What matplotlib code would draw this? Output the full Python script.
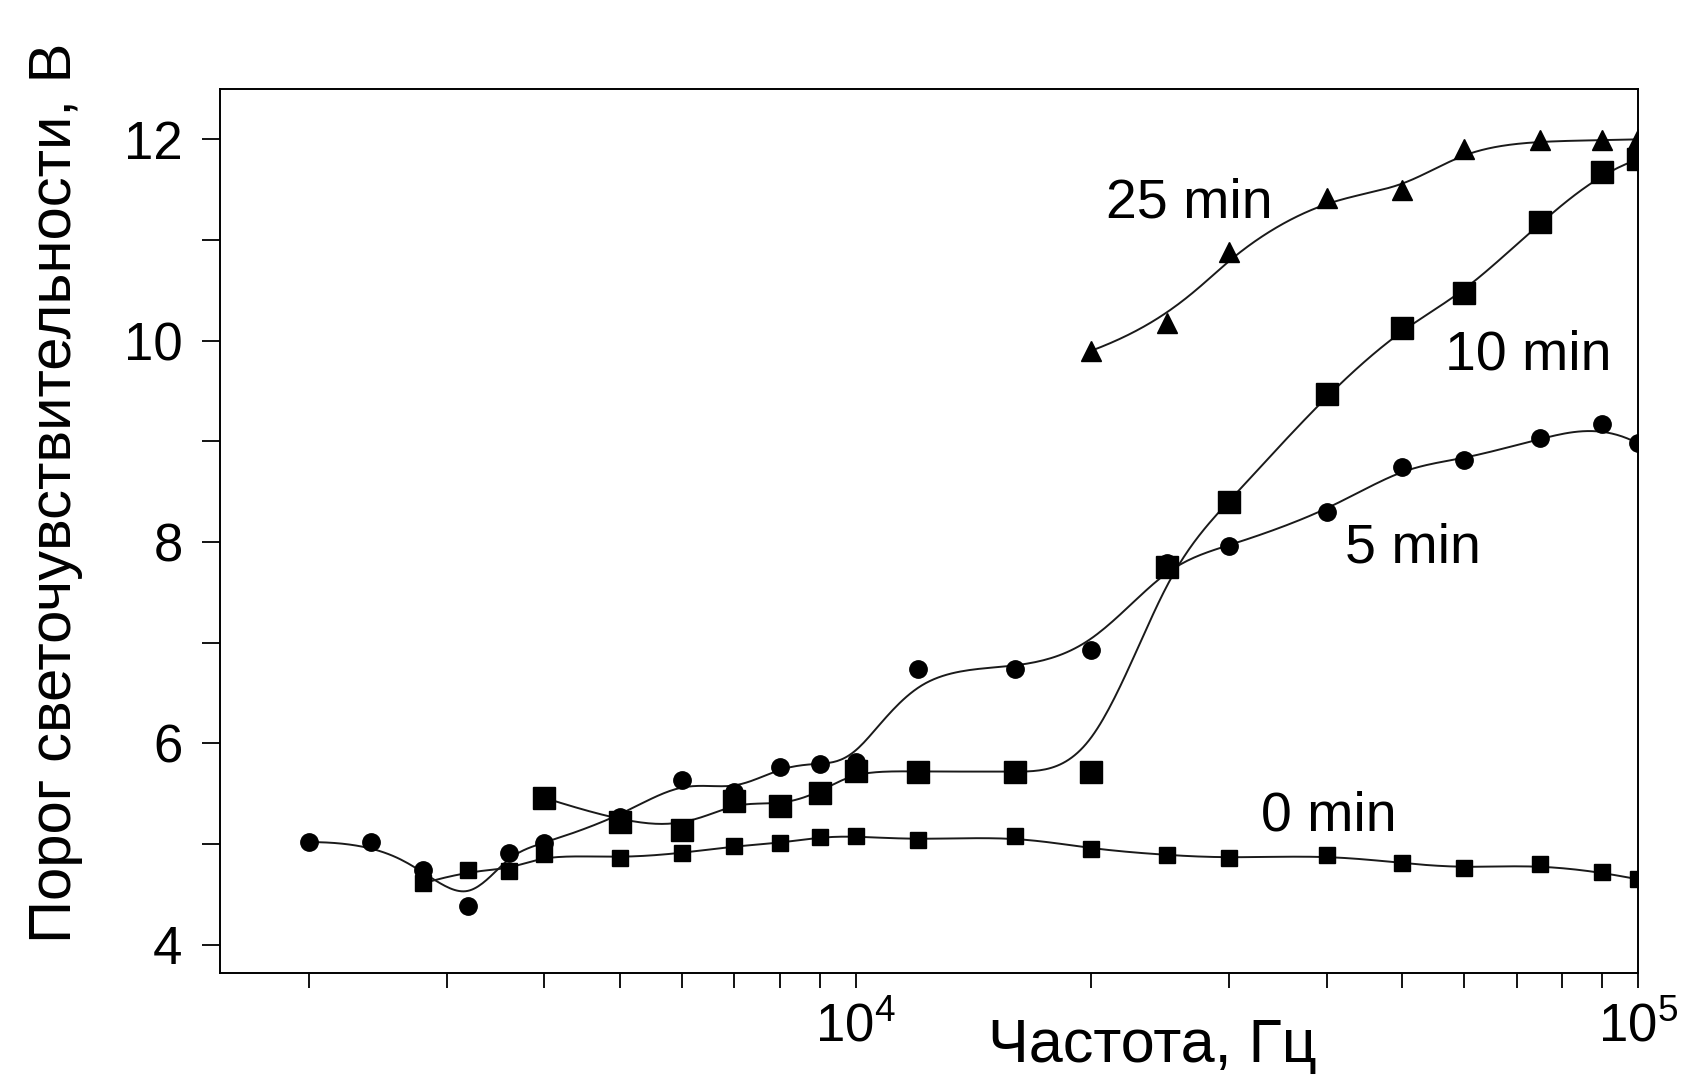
import numpy as np
import matplotlib.pyplot as plt
from matplotlib.ticker import LogLocator, NullFormatter, MultipleLocator

# frequency, Hz / light-sensitivity threshold, V
freq_0 = [2800, 3200, 3600, 4000, 5000, 6000, 7000, 8000, 9000, 10000, 12000,
          16000, 20000, 25000, 30000, 40000, 50000, 60000, 75000, 90000, 100000]
thr_0 = [4.61, 4.74, 4.73, 4.90, 4.86, 4.91, 4.98, 5.01, 5.07, 5.08, 5.04,
         5.08, 4.95, 4.89, 4.86, 4.89, 4.81, 4.76, 4.80, 4.72, 4.65]

freq_5 = [2000, 2400, 2800, 3200, 3600, 4000, 5000, 6000, 7000, 8000, 9000, 10000,
          12000, 16000, 20000, 25000, 30000, 40000, 50000, 60000, 75000, 90000, 100000]
thr_5 = [5.02, 5.02, 4.74, 4.39, 4.91, 5.01, 5.27, 5.64, 5.52, 5.77, 5.80, 5.82,
         6.74, 6.74, 6.93, 7.79, 7.96, 8.30, 8.75, 8.82, 9.03, 9.17, 8.98]

freq_10 = [4000, 5000, 6000, 7000, 8000, 9000, 10000, 12000, 16000, 20000,
           25000, 30000, 40000, 50000, 60000, 75000, 90000, 100000]
thr_10 = [5.46, 5.22, 5.14, 5.43, 5.38, 5.51, 5.73, 5.72, 5.72, 5.72,
          7.75, 8.40, 9.47, 10.13, 10.47, 11.18, 11.68, 11.80]

freq_25 = [20000, 25000, 30000, 40000, 50000, 60000, 75000, 90000, 100000]
thr_25 = [9.90, 10.18, 10.88, 11.42, 11.50, 11.90, 11.99, 11.99, 12.0]


def bspline(xs, ys, num=400, k=3):
    # clamped cubic B-spline through the points in (log f, V) space
    P = np.column_stack([np.log10(xs), ys])
    n = len(P)
    knots = np.r_[[0.0] * k, np.linspace(0, 1, n - k + 1), [1.0] * k]
    t = np.linspace(0, 1 - 1e-9, num)
    N = np.zeros((num, len(knots) - 1))
    for i in range(len(knots) - 1):
        N[:, i] = (knots[i] <= t) & (t < knots[i + 1])
    for d in range(1, k + 1):
        Nn = np.zeros((num, len(knots) - 1 - d))
        for i in range(len(knots) - 1 - d):
            a = knots[i + d] - knots[i]
            b = knots[i + d + 1] - knots[i + 1]
            term = np.zeros(num)
            if a > 0:
                term += (t - knots[i]) / a * N[:, i]
            if b > 0:
                term += (knots[i + d + 1] - t) / b * N[:, i + 1]
            Nn[:, i] = term
        N = Nn
    C = N @ P
    return 10 ** C[:, 0], C[:, 1]


plt.rcParams['font.family'] = ['Liberation Sans', 'DejaVu Sans']

fig = plt.figure(figsize=(16.82, 10.83), dpi=100)
ax = fig.add_axes([0.1308, 0.1016, 0.843, 0.8162])

series = [
    (freq_0, thr_0, 's', 12),
    (freq_5, thr_5, 'o', 12.5),
    (freq_10, thr_10, 's', 16),
    (freq_25, thr_25, '^', 14),
]
for fx, fy, mk, ms in series:
    cx, cy = bspline(fx, fy)
    ax.plot(cx, cy, color='#1a1a1a', lw=1.4, zorder=2)
    ax.plot(fx, fy, linestyle='none', marker=mk, markersize=ms,
            color='black', zorder=3)

ax.set_xscale('log')
ax.set_xlim(1540, 1e5)
ax.set_ylim(3.72, 12.5)

ax.xaxis.set_major_locator(LogLocator(base=10))
ax.xaxis.set_minor_locator(LogLocator(base=10, subs=np.arange(2, 10)))
ax.xaxis.set_minor_formatter(NullFormatter())
ax.yaxis.set_major_locator(MultipleLocator(2))
ax.yaxis.set_minor_locator(MultipleLocator(1))

ax.tick_params(which='both', direction='out', width=1.3, labelsize=38)
ax.tick_params(axis='y', which='both', length=13, pad=14)
ax.tick_params(axis='x', which='both', length=11, pad=10)
for s in ax.spines.values():
    s.set_linewidth(1.4)

ax.text(26700, 11.36, '25 min', fontsize=40, ha='center', va='center')
ax.text(72400, 9.85, '10 min', fontsize=40, ha='center', va='center')
ax.text(51600, 7.94, '5 min', fontsize=40, ha='center', va='center')
ax.text(40300, 5.27, '0 min', fontsize=40, ha='center', va='center')

fig.text(0.685, 0.034, 'Частота, Гц', fontsize=44, ha='center', va='center')
fig.text(0.033, 0.545, 'Порог светочувствительности, В', fontsize=43,
         rotation=90, ha='center', va='center')

fig.savefig('out.png', dpi=100)
